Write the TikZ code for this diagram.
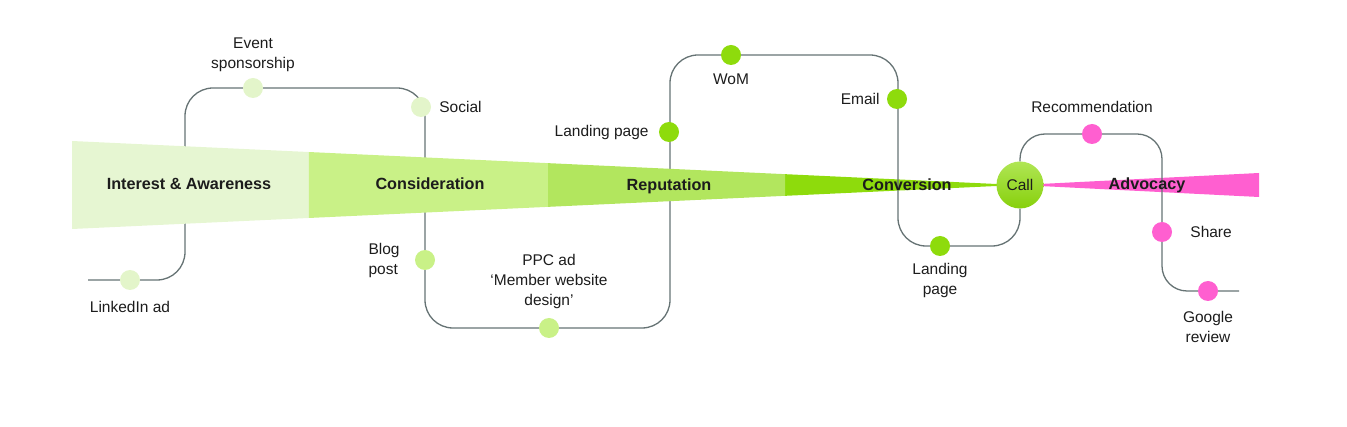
\documentclass[tikz,border=0pt]{standalone}
\usepackage{fontspec}
\setmainfont{Liberation Sans}
\usepackage{xcolor}
\usepackage{tikz}
\usetikzlibrary{calc}
\usetikzlibrary{positioning}
\definecolor{stageA}{HTML}{E6F6D2}
\definecolor{stageB}{HTML}{C9F187}
\definecolor{stageC}{HTML}{B2E65E}
\definecolor{stageD}{HTML}{8EDB0C}
\definecolor{advo}{HTML}{FF5FD0}
\definecolor{routegray}{HTML}{667374}
\definecolor{ink}{HTML}{1C1C1C}

\begin{document}
\begin{tikzpicture}[x=1pt,y=-1pt,font=\fontsize{15.5}{20}\selectfont,text=ink]
  \tikzstyle{touch}=[circle, inner sep=0pt, minimum size=20pt]
  \tikzstyle{touchA}=[touch, fill=stageA!90!stageB]
  \tikzstyle{touchB}=[touch, fill=stageB]
  \tikzstyle{touchC}=[touch, fill=stageD]
  \tikzstyle{touchD}=[touch, fill=advo]
  \tikzstyle{lbl}=[inner sep=0pt, align=center]
  \tikzstyle{stage}=[inner sep=0pt, font=\fontsize{16.2}{20}\selectfont\bfseries]
  \tikzstyle{route}=[draw=routegray, line width=1.3pt, rounded corners=28pt]
  \useasboundingbox (0,0) rectangle (1347,427);
  % funnel corners
  \coordinate (ft) at (72,141);
  \coordinate (fb) at (72,229);
  \coordinate (tip) at (1018,185);
  % conversion and advocacy lie under the route
  \fill[stageD] ($(ft)!0.7537!(tip)$) -- (tip) -- ($(fb)!0.7537!(tip)$) -- cycle;
  \fill[advo] (1020,185) -- (1259,173) -- (1259,197) -- cycle;
  \node[circle, inner sep=0pt, minimum size=47pt, top color=stageD!70!white, bottom color=stageD!95!black] (call) at (1020,185) {Call};
  % route
  \coordinate (r0) at (88,280);
  \coordinate (r1) at (185,280);
  \coordinate (r2) at (185,88);
  \coordinate (r3) at (425,88);
  \coordinate (r4) at (425,328);
  \coordinate (r5) at (670,328);
  \coordinate (r6) at (670,55);
  \coordinate (r7) at (898,55);
  \coordinate (r8) at (898,246);
  \coordinate (r9) at (1020,246);
  \coordinate (s1) at (1020,134);
  \coordinate (s2) at (1162,134);
  \coordinate (s3) at (1162,291);
  \coordinate (s4) at (1239,291);
  \draw[route] (r0) -- (r1) -- (r2) -- (r3) -- (r4) -- (r5) -- (r6) -- (r7) -- (r8) -- (r9) -- (call);
  \draw[route, rounded corners=25pt] (call) -- (s1) -- (s2) -- (s3) -- (s4);
  % first three stages cover the route
  \foreach \a/\b/\c in {0/0.2505/stageA, 0.2505/0.5032/stageB, 0.5032/0.7537/stageC}
    \fill[\c] ($(ft)!\a!(tip)$) -- ($(ft)!\b!(tip)$) -- ($(fb)!\b!(tip)$) -- ($(fb)!\a!(tip)$) -- cycle;
  % touch points
  \node[touchA] (linkedin) at (130,280) {};
  \node[lbl, below=11pt of linkedin] {LinkedIn ad};
  \node[touchA] (event) at (253,88) {};
  \node[lbl, above=6pt of event] {Event\\sponsorship};
  \node[touchA] (social) at (421,107) {};
  \node[lbl, right=8pt of social] {Social};
  \node[touchB] (blog) at (425,260) {};
  \node[lbl, align=left, left=15pt of blog] {Blog\\post};
  \node[touchB] (ppc) at (549,328) {};
  \node[lbl, above=9pt of ppc] {PPC ad\\‘Member website\\design’};
  \node[touchC] (landA) at (669,132) {};
  \node[lbl, left=10pt of landA] {Landing page};
  \node[touchC] (wom) at (731,55) {};
  \node[lbl, below=8pt of wom] {WoM};
  \node[touchC] (email) at (897,99) {};
  \node[lbl, left=7pt of email] {Email};
  \node[touchC] (landB) at (940,246) {};
  \node[lbl, below=7pt of landB] {Landing\\page};
  \node[touchD] (recom) at (1092,134) {};
  \node[lbl, above=11pt of recom] {Recommendation};
  \node[touchD] (share) at (1162,232) {};
  \node[lbl, right=18pt of share] {Share};
  \node[touchD] (google) at (1208,291) {};
  \node[lbl, below=10pt of google] {Google\\review};
  % stages
  \node[stage] (interest) at (189,184) {Interest \& Awareness};
  \node[stage] (consid) at (430,184) {Consideration};
  \node[stage] (reput) at (669,186) {Reputation};
  \node[stage] (conv) at (907,185) {Conversion};
  \node[stage] (advoc) at (1147,185) {Advocacy};
\end{tikzpicture}
\end{document}
